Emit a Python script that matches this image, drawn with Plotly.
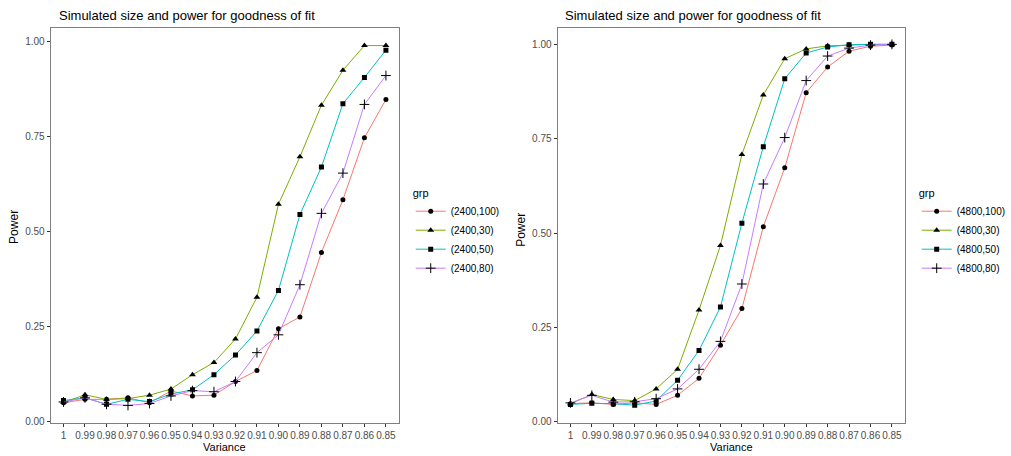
import plotly.graph_objects as go

variance_labels = ["1", "0.99", "0.98", "0.97", "0.96", "0.95", "0.94", "0.93",
                   "0.92", "0.91", "0.90", "0.89", "0.88", "0.87", "0.86", "0.85"]
x_idx = list(range(len(variance_labels)))

groups_left = ["(2400,100)", "(2400,30)", "(2400,50)", "(2400,80)"]
left_100 = [0.049, 0.058, 0.058, 0.062, 0.049, 0.080, 0.067, 0.069, 0.105, 0.134, 0.244, 0.275, 0.445, 0.584, 0.747, 0.848]
left_30 = [0.050, 0.070, 0.058, 0.060, 0.069, 0.085, 0.123, 0.155, 0.217, 0.327, 0.572, 0.697, 0.833, 0.925, 0.990, 0.990]
left_50 = [0.055, 0.062, 0.045, 0.058, 0.052, 0.072, 0.083, 0.123, 0.175, 0.238, 0.345, 0.545, 0.670, 0.837, 0.906, 0.978]
left_80 = [0.051, 0.062, 0.045, 0.042, 0.047, 0.067, 0.081, 0.078, 0.105, 0.181, 0.228, 0.360, 0.548, 0.654, 0.835, 0.911]

groups_right = ["(4800,100)", "(4800,30)", "(4800,50)", "(4800,80)"]
right_100 = [0.048, 0.050, 0.046, 0.050, 0.046, 0.070, 0.115, 0.203, 0.300, 0.517, 0.673, 0.872, 0.940, 0.982, 0.995, 0.998]
right_30 = [0.048, 0.072, 0.059, 0.056, 0.087, 0.139, 0.296, 0.467, 0.708, 0.866, 0.962, 0.988, 0.996, 0.999, 1.000, 1.000]
right_50 = [0.046, 0.049, 0.048, 0.044, 0.055, 0.110, 0.189, 0.304, 0.526, 0.729, 0.909, 0.977, 0.993, 0.999, 1.000, 1.000]
right_80 = [0.050, 0.070, 0.052, 0.053, 0.061, 0.087, 0.139, 0.213, 0.365, 0.630, 0.753, 0.904, 0.969, 0.990, 0.998, 1.000]

colors = ["#F8766D", "#7CAE00", "#00BFC4", "#C77CFF"]
symbols = ["circle", "triangle-up", "square", "cross-thin"]
sizes = [5, 6, 5, 7]

FONT = "Liberation Sans, Arial, sans-serif"

fig = go.Figure()

left_series = [left_100, left_30, left_50, left_80]
right_series = [right_100, right_30, right_50, right_80]


def add_group(names, series, xa, ya, lg):
    for name, vals, c, s, sz in zip(names, series, colors, symbols, sizes):
        fig.add_trace(go.Scatter(
            x=x_idx, y=vals, mode="lines+markers", name=name,
            line=dict(color=c, width=1),
            marker=dict(color="black", symbol=s, size=sz,
                        line=dict(color="black", width=1 if s == "cross-thin" else 0)),
            xaxis=xa, yaxis=ya, legend=lg))


add_group(groups_left, left_series, "x", "y", "legend")
add_group(groups_right, right_series, "x2", "y2", "legend2")

ydom = [1 - 427 / 456, 1 - 28 / 456]
axis_common = dict(showgrid=False, zeroline=False, showline=True, mirror=True,
                   linecolor="#7F7F7F", linewidth=1, ticks="outside", ticklen=3,
                   tickcolor="#333333", tickangle=0,
                   tickfont=dict(family=FONT, size=10, color="#4D4D4D"))

tickvals_y = [0, 0.25, 0.5, 0.75, 1.0]
ticktext_y = ["0.00", "0.25", "0.50", "0.75", "1.00"]

legend_common = dict(xanchor="left", yanchor="top",
                     title=dict(text="grp", font=dict(family=FONT, size=11, color="black")),
                     font=dict(family=FONT, size=10, color="black"),
                     bgcolor="rgba(0,0,0,0)", tracegroupgap=0, itemwidth=30)

fig.update_layout(
    width=1011, height=456,
    margin=dict(l=0, r=0, t=0, b=0),
    paper_bgcolor="white", plot_bgcolor="white",
    font=dict(family=FONT),
    xaxis=dict(domain=[51 / 1011, 402 / 1011], range=[-0.6, 15.6],
               tickvals=x_idx, ticktext=variance_labels, anchor="y", **axis_common),
    yaxis=dict(domain=ydom, range=[-0.005, 1.037], tickvals=tickvals_y,
               ticktext=ticktext_y, anchor="x", **axis_common),
    xaxis2=dict(domain=[562 / 1011, 912 / 1011], range=[-0.6, 15.6],
                tickvals=x_idx, ticktext=variance_labels, anchor="y2", **axis_common),
    yaxis2=dict(domain=ydom, range=[-0.004, 1.044], tickvals=tickvals_y,
                ticktext=ticktext_y, anchor="x2", **axis_common),
    legend=dict(x=414 / 1011, y=1 - 184 / 456, **legend_common),
    legend2=dict(x=924 / 1011, y=1 - 184 / 456, **legend_common),
    showlegend=True,
)

annotations = [
    dict(text="Simulated size and power for goodness of fit", x=57 / 1011, y=1 - 16 / 456,
         xref="paper", yref="paper", xanchor="left", yanchor="middle", showarrow=False,
         font=dict(family=FONT, size=13, color="black")),
    dict(text="Simulated size and power for goodness of fit", x=567 / 1011, y=1 - 16 / 456,
         xref="paper", yref="paper", xanchor="left", yanchor="middle", showarrow=False,
         font=dict(family=FONT, size=13, color="black")),
    dict(text="Variance", x=(51 + 402) / 2 / 1011, y=1 - 451 / 456,
         xref="paper", yref="paper", xanchor="center", yanchor="middle", showarrow=False,
         borderpad=0, font=dict(family=FONT, size=11, color="black")),
    dict(text="Variance", x=(562 + 912) / 2 / 1011, y=1 - 451 / 456,
         xref="paper", yref="paper", xanchor="center", yanchor="middle", showarrow=False,
         borderpad=0, font=dict(family=FONT, size=11, color="black")),
    dict(text="Power", x=14 / 1011, y=1 - 229 / 456, textangle=-90,
         xref="paper", yref="paper", xanchor="center", yanchor="middle", showarrow=False,
         font=dict(family=FONT, size=12, color="black")),
    dict(text="Power", x=525 / 1011, y=1 - 232 / 456, textangle=-90,
         xref="paper", yref="paper", xanchor="center", yanchor="middle", showarrow=False,
         font=dict(family=FONT, size=12, color="black")),
]
fig.update_layout(annotations=annotations)

fig.write_html("out.html")
